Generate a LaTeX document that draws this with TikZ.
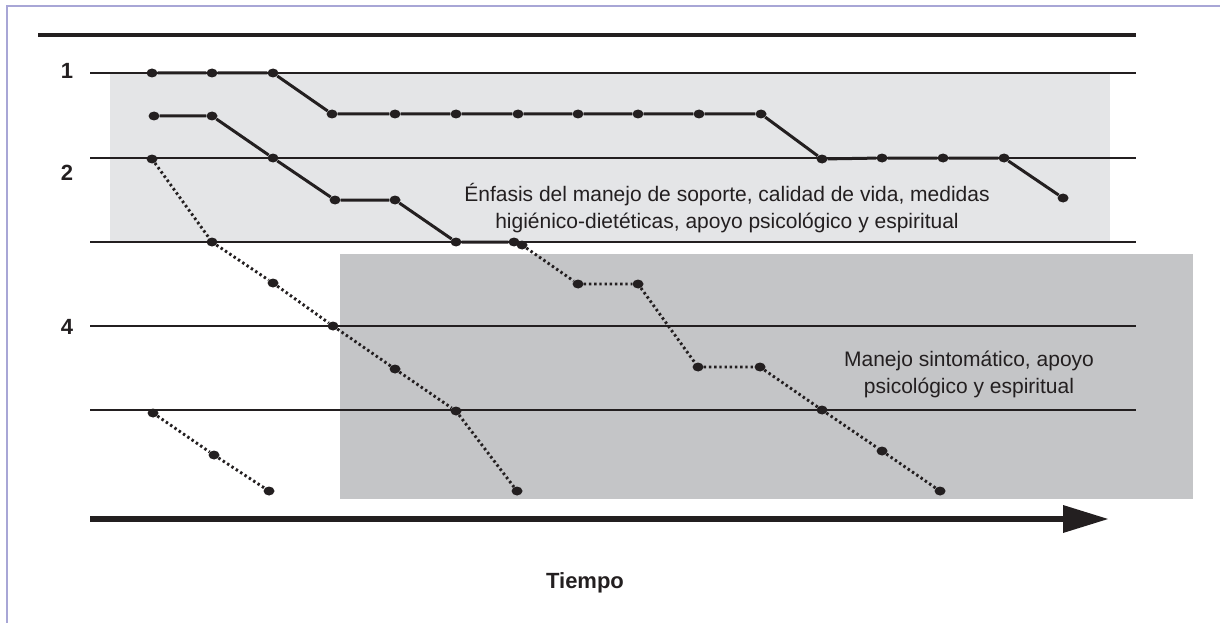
\documentclass[tikz,border=0pt]{standalone}
\usepackage{fontspec}
\setmainfont{Liberation Sans}
\usetikzlibrary{shapes.geometric}
\definecolor{ink}{RGB}{35,31,32}
\definecolor{lightbox}{RGB}{228,229,231}
\definecolor{darkbox}{RGB}{196,197,199}
\definecolor{framec}{RGB}{168,166,214}
\tikzset{
  dot/.style={ellipse,fill=ink,draw=none,minimum width=11pt,minimum height=9pt,inner sep=0pt},
  solidlink/.style={draw=ink,line width=3pt},
  dotlink/.style={draw=ink,line width=2.9pt,dash pattern=on 2.4pt off 2.8pt},
  gridline/.style={draw=ink,line width=1.3pt},
  lbl/.style={font=\fontsize{22}{24}\selectfont\bfseries,text=ink},
  note/.style={font=\fontsize{21}{27}\selectfont,text=ink,align=center}
}
\begin{document}
\begin{tikzpicture}[x=1pt,y=-1pt]
\useasboundingbox (0,0) rectangle (1220,623);
% frame
\draw[framec,line width=2pt] (7,623) -- (7,6) -- (1220,6);
% boxes
\fill[lightbox] (110,73) rectangle (1110,242);
\fill[darkbox] (340,254) rectangle (1193,499);
% top rule
\draw[ink,line width=3.4pt] (38,35) -- (1136,35);
% grid lines
\foreach \yy in {73,158,242,326,410} \draw[gridline] (90,\yy) -- (1136,\yy);
% level labels
\node[lbl] (l1) at (67,71) {1};
\node[lbl] (l2) at (67,173) {2};
\node[lbl] (l4) at (67,327) {4};
% series A
\foreach \n/\x/\y in {1/152/73,2/212/73,3/273/73,4/332/114,5/395/114,6/456/114,7/518/114,8/578/114,9/638/114,10/699/114,11/761/114,12/822/159,13/882/158,14/943/158,15/1004/158,16/1063/198}
  \node[dot] (a\n) at (\x,\y) {};
\draw[solidlink] (a1)--(a2)--(a3)--(a4)--(a5)--(a6)--(a7)--(a8)--(a9)--(a10)--(a11)--(a12)--(a13)--(a14)--(a15)--(a16);
% series B
\foreach \n/\x/\y in {1/154/116,2/212/116,3/273/158,4/335/200,5/395/200,6/456/242,7/514/242,8/522/245,9/578/284,10/638/284,11/698/367,12/760/367,13/822/410,14/882/451,15/940/491}
  \node[dot] (b\n) at (\x,\y) {};
\draw[solidlink] (b1)--(b2)--(b3)--(b4)--(b5)--(b6)--(b7);
\draw[dotlink] (b8)--(b9)--(b10)--(b11)--(b12)--(b13)--(b14)--(b15);
% series C
\foreach \n/\x/\y in {1/152/159,2/212/242,3/273/283,4/333/326,5/395/369,6/456/411,7/517/491}
  \node[dot] (c\n) at (\x,\y) {};
\draw[dotlink] (c1)--(c2)--(c3)--(c4)--(c5)--(c6)--(c7);
% series D
\foreach \n/\x/\y in {1/153/413,2/214/455,3/269/491}
  \node[dot] (d\n) at (\x,\y) {};
\draw[dotlink] (d1)--(d2)--(d3);
% notes
\node[note] (n1) at (727,208) {Énfasis del manejo de soporte, calidad de vida, medidas\\higiénico-dietéticas, apoyo psicológico y espiritual};
\node[note] (n2) at (969,374) {Manejo sintomático, apoyo\\psicológico y espiritual};
% time arrow
\coordinate (t0) at (90,519);
\coordinate (t1) at (1064,519);
\coordinate (tip) at (1108,519);
\draw[ink,line width=6pt] (t0) -- (t1);
\fill[ink] (1063,505) -- (tip) -- (1063,533) -- cycle;
\node[lbl] (tiempo) at (585,583) {Tiempo};
\end{tikzpicture}
\end{document}
